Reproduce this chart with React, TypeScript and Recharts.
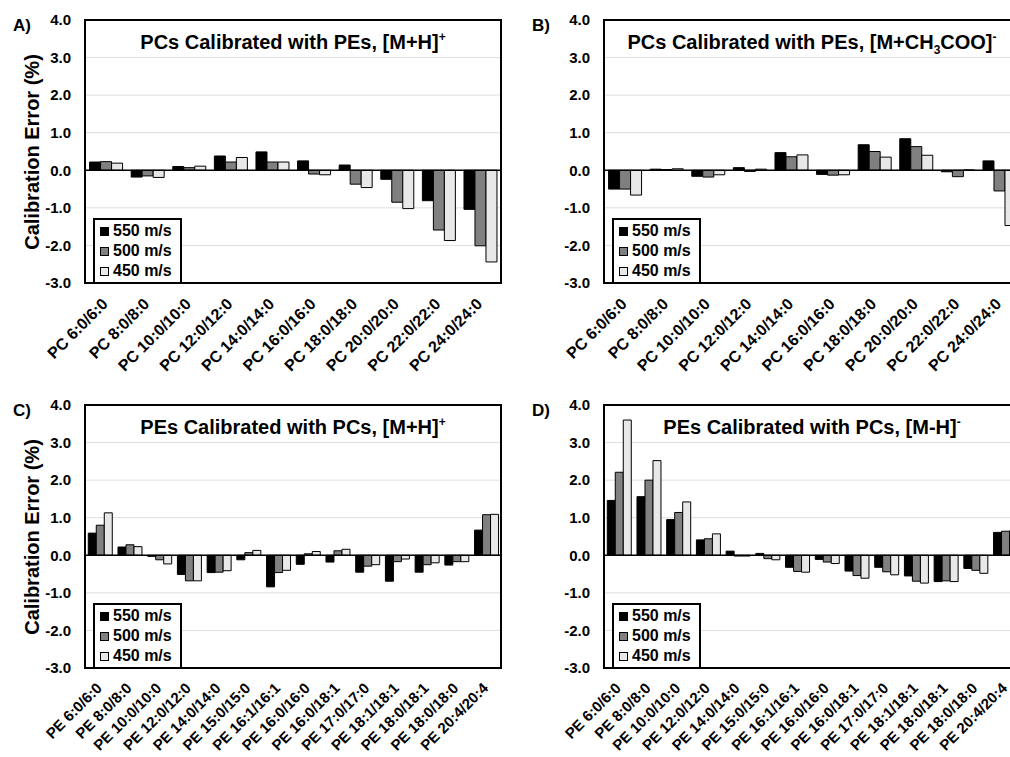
import React from 'react';
import {
  BarChart, Bar, XAxis, YAxis, CartesianGrid, ReferenceLine, Legend
} from 'recharts';

const FONT = '"Liberation Sans", Arial, sans-serif';

const pcCategories = [
  'PC 6:0/6:0', 'PC 8:0/8:0', 'PC 10:0/10:0', 'PC 12:0/12:0', 'PC 14:0/14:0',
  'PC 16:0/16:0', 'PC 18:0/18:0', 'PC 20:0/20:0', 'PC 22:0/22:0', 'PC 24:0/24:0',
];
const peCategories = [
  'PE 6:0/6:0', 'PE 8:0/8:0', 'PE 10:0/10:0', 'PE 12:0/12:0', 'PE 14:0/14:0',
  'PE 15:0/15:0', 'PE 16:1/16:1', 'PE 16:0/16:0', 'PE 16:0/18:1', 'PE 17:0/17:0',
  'PE 18:1/18:1', 'PE 18:0/18:1', 'PE 18:0/18:0', 'PE 20:4/20:4',
];

const yTicks = [-3, -2, -1, 0, 1, 2, 3, 4];
const seriesNames = ['550 m/s', '500 m/s', '450 m/s'];
const seriesColors = ['#000000', '#808080', '#e8e8e8'];

// A) PCs calibrated with PEs, [M+H]+
const a550 = [0.22, -0.18, 0.10, 0.38, 0.49, 0.25, 0.14, -0.24, -0.81, -1.04];
const a500 = [0.23, -0.15, 0.07, 0.22, 0.22, -0.10, -0.37, -0.85, -1.59, -2.01];
const a450 = [0.19, -0.19, 0.11, 0.34, 0.22, -0.12, -0.46, -1.02, -1.87, -2.44];

// B) PCs calibrated with PEs, [M+CH3COO]-
const b550 = [-0.50, 0.03, -0.16, 0.07, 0.47, -0.11, 0.68, 0.84, -0.04, 0.25];
const b500 = [-0.50, 0.02, -0.18, -0.03, 0.36, -0.13, 0.50, 0.63, -0.17, -0.55];
const b450 = [-0.66, 0.04, -0.12, 0.03, 0.41, -0.12, 0.35, 0.40, 0.01, -1.47];

// C) PEs calibrated with PCs, [M+H]+
const c550 = [0.59, 0.22, -0.03, -0.51, -0.46, -0.12, -0.84, -0.24, -0.18, -0.45, -0.69, -0.45, -0.26, 0.67];
const c500 = [0.80, 0.28, -0.12, -0.68, -0.45, 0.07, -0.46, 0.04, 0.12, -0.29, -0.17, -0.25, -0.17, 1.08];
const c450 = [1.13, 0.23, -0.23, -0.68, -0.41, 0.13, -0.40, 0.10, 0.16, -0.25, -0.10, -0.20, -0.17, 1.09];

// D) PEs calibrated with PCs, [M-H]-
const d550 = [1.46, 1.56, 0.95, 0.41, 0.11, 0.05, -0.32, -0.11, -0.42, -0.32, -0.55, -0.70, -0.35, 0.61];
const d500 = [2.21, 2.00, 1.14, 0.44, -0.02, -0.09, -0.43, -0.18, -0.54, -0.44, -0.69, -0.68, -0.40, 0.64];
const d450 = [3.60, 2.52, 1.42, 0.57, -0.02, -0.12, -0.45, -0.22, -0.61, -0.52, -0.74, -0.70, -0.48, 0.65];

const build = (cats: string[], s1: number[], s2: number[], s3: number[]) =>
  cats.map((name, i) => ({ name, s550: s1[i], s500: s2[i], s450: s3[i] }));

const XTick = (props: any) => {
  const { x, y, payload, size } = props;
  const fs = size || 16;
  return (
    <g transform={`translate(${x + 3},${y + fs + 6})`}>
      <text textAnchor="end" transform="rotate(-45)" fontSize={fs} fontWeight="bold"
        fontFamily={FONT} fill="#000">
        {payload.value}
      </text>
    </g>
  );
};

const LegendBox = (props: any) => {
  const items = [...(props.payload || [])].sort(
    (p: any, q: any) => seriesNames.indexOf(p.value) - seriesNames.indexOf(q.value)
  );
  return (
    <div style={{
      border: '2px solid #000', background: '#fff', width: 85, padding: '1px 0 1px 0',
      fontFamily: FONT, fontWeight: 'bold', fontSize: 16, color: '#000',
    }}>
      {items.map((it: any, i: number) => (
        <div key={i} style={{ display: 'flex', alignItems: 'center', height: 20 }}>
          <span style={{
            display: 'inline-block', width: 7, height: 7, marginLeft: 5, marginRight: 4,
            background: it.color, border: '1px solid #000',
          }} />
          <span>{it.value}</span>
        </div>
      ))}
    </div>
  );
};

interface PanelProps {
  left: number;
  top: number;
  yAxisWidth: number;
  plotTop: number;
  data: any[];
  letter: string;
  title: React.ReactNode;
  yLabel?: boolean;
  tickSize?: number;
}

function Panel({ left, top, yAxisWidth, plotTop, data, letter, title, yLabel, tickSize }: PanelProps) {
  const width = yAxisWidth + 421;
  const height = 380;
  const plotH = 263;
  const plotW = 416;
  return (
    <div style={{ position: 'absolute', left, top, width, height }}>
      <BarChart
        width={width}
        height={height}
        data={data}
        margin={{ top: plotTop, right: 5, left: 0, bottom: 0 }}
        barCategoryGap="11%"
        barGap={0}
      >
        <CartesianGrid vertical={false} stroke="#dedede" strokeWidth={1} />
        <XAxis dataKey="name" interval={0} tick={<XTick size={tickSize} />} tickLine={false} axisLine={false}
          tickSize={0} tickMargin={0} height={height - plotTop - plotH} />
        <YAxis domain={[-3, 4]} ticks={yTicks} width={yAxisWidth} tickLine={false} axisLine={false}
          tickSize={0} tickMargin={14} tickFormatter={(v: number) => v.toFixed(1)}
          tick={{ fill: '#000', fontSize: 15, fontWeight: 'bold', fontFamily: FONT }} />
        <Bar dataKey="s550" name={seriesNames[0]} fill={seriesColors[0]} stroke="#000" strokeWidth={1} isAnimationActive={false} />
        <Bar dataKey="s500" name={seriesNames[1]} fill={seriesColors[1]} stroke="#000" strokeWidth={1} isAnimationActive={false} />
        <Bar dataKey="s450" name={seriesNames[2]} fill={seriesColors[2]} stroke="#000" strokeWidth={1} isAnimationActive={false} />
        <ReferenceLine y={0} stroke="#000" strokeWidth={1.5} />
        <Legend layout="vertical" align="center" verticalAlign="middle" content={<LegendBox />}
          wrapperStyle={{ left: yAxisWidth + 8, top: plotTop + plotH - 65, width: 'auto', height: 'auto' }} />
      </BarChart>
      {/* plot frame */}
      <div style={{
        position: 'absolute', left: yAxisWidth - 1, top: plotTop - 1, width: plotW - 2, height: plotH - 2,
        border: '2px solid #000', pointerEvents: 'none',
      }} />
      <div style={{
        position: 'absolute', left: yAxisWidth, width: plotW, top: plotTop + 12, textAlign: 'center',
        fontFamily: FONT, fontWeight: 'bold', fontSize: 20, lineHeight: 1, color: '#000', whiteSpace: 'nowrap',
      }}>{title}</div>
      <div style={{
        position: 'absolute', left: yAxisWidth - 72, top: plotTop - 3, fontFamily: FONT,
        fontWeight: 'bold', fontSize: 17, lineHeight: 1, color: '#000',
      }}>{letter}</div>
      {yLabel && (
        <div style={{
          position: 'absolute', left: 32, top: plotTop + plotH / 2, transform: 'translate(-50%, -50%) rotate(-90deg)',
          fontFamily: FONT, fontWeight: 'bold', fontSize: 20, lineHeight: 1, color: '#000', whiteSpace: 'nowrap',
        }}>Calibration Error (%)</div>
      )}
    </div>
  );
}

const sup = { fontSize: 12, verticalAlign: 'super', lineHeight: 0 } as React.CSSProperties;
const sub = { fontSize: 12, verticalAlign: 'sub', lineHeight: 0 } as React.CSSProperties;

export default function App() {
  return (
    <div style={{ position: 'absolute', left: 0, top: 0, width: 1010, height: 757, overflow: 'hidden', background: '#fff' }}>
      <Panel left={0} top={0} yAxisWidth={85} plotTop={20} letter="A)" yLabel tickSize={16}
        data={build(pcCategories, a550, a500, a450)}
        title={<>PCs Calibrated with PEs, [M+H]<span style={sup}>+</span></>} />
      <Panel left={505} top={0} yAxisWidth={99} plotTop={20} letter="B)" tickSize={16}
        data={build(pcCategories, b550, b500, b450)}
        title={<>PCs Calibrated with PEs, [M+CH<span style={sub}>3</span>COO]<span style={sup}>-</span></>} />
      <Panel left={0} top={380} yAxisWidth={85} plotTop={25} letter="C)" yLabel tickSize={15}
        data={build(peCategories, c550, c500, c450)}
        title={<>PEs Calibrated with PCs, [M+H]<span style={sup}>+</span></>} />
      <Panel left={505} top={380} yAxisWidth={99} plotTop={25} letter="D)" tickSize={15}
        data={build(peCategories, d550, d500, d450)}
        title={<>PEs Calibrated with PCs, [M-H]<span style={sup}>-</span></>} />
    </div>
  );
}
